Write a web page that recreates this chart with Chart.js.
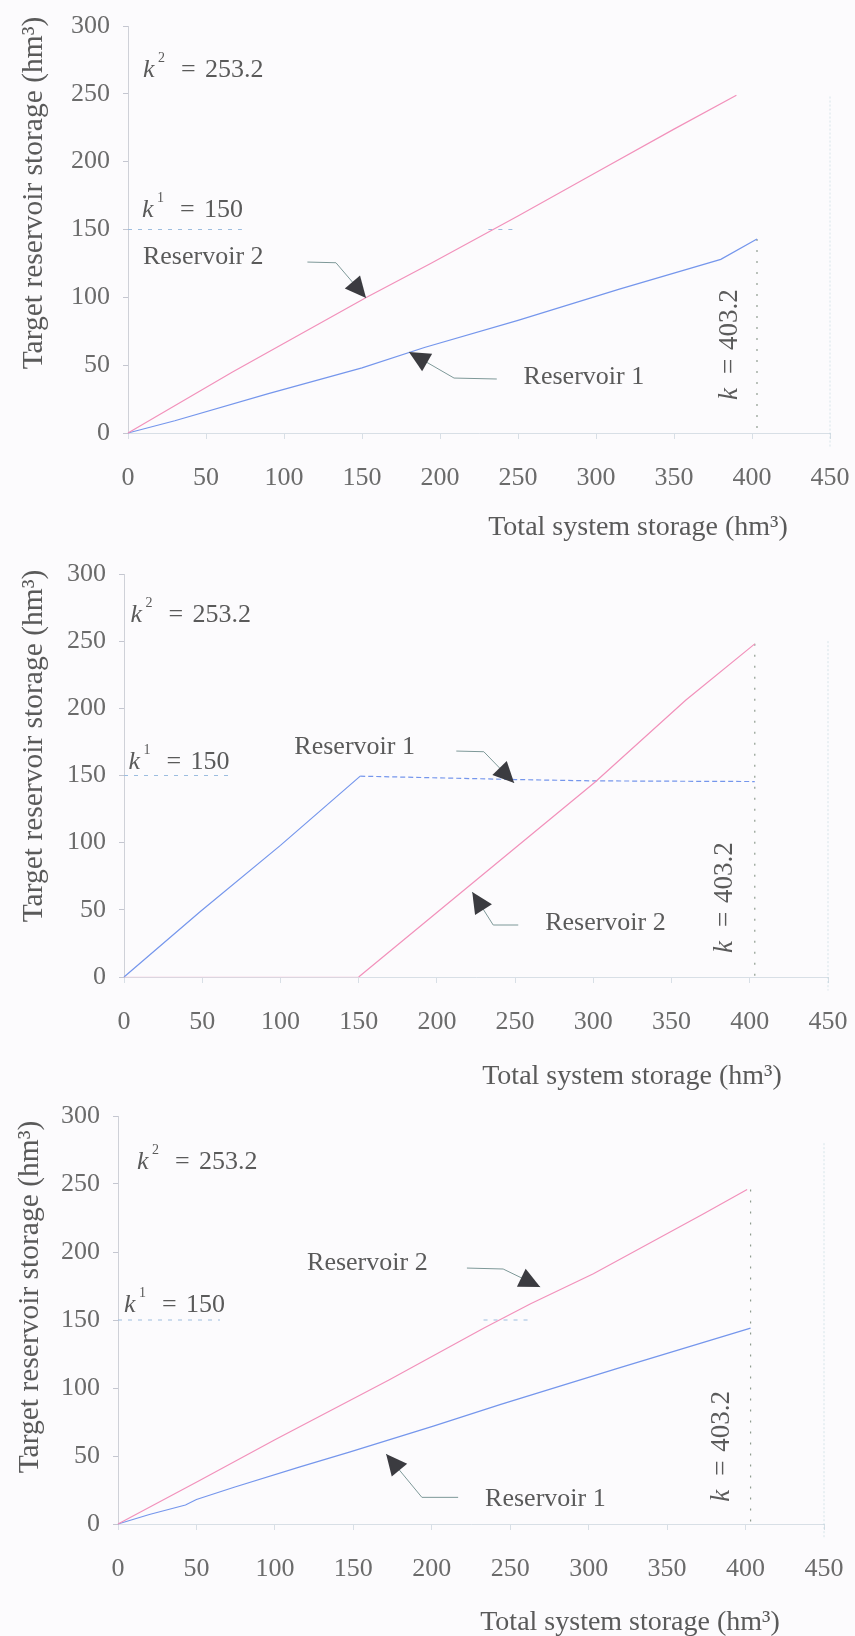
<!DOCTYPE html>
<html>
<head>
<meta charset="utf-8">
<script src="https://cdn.jsdelivr.net/npm/chart.js@4.4.0/dist/chart.umd.min.js"></script>
<style>
  html, body { margin: 0; padding: 0; background: #fcfbfd; }
  #wrap { position: relative; width: 855px; height: 1636px; overflow: hidden; }
  canvas { position: absolute; left: 0; }
</style>
</head>
<body>
<div id="wrap">
  <canvas id="c1" width="855" height="545" style="top:0px"></canvas>
  <canvas id="c2" width="855" height="545" style="top:545px"></canvas>
  <canvas id="c3" width="855" height="546" style="top:1090px"></canvas>
</div>
<script>
// ---- Target storage of each reservoir vs. total system storage (hm³) ----
const xTicks = [0, 50, 100, 150, 200, 250, 300, 350, 400, 450];
const yTicks = [0, 50, 100, 150, 200, 250, 300];

// Reservoir capacities and total system capacity
const capacity1 = 150;
const capacity2 = 253.2;
const totalCapacity = 403.2;

// Rule A (space-rule style sharing)
const totalR1_a = [0, 30, 90, 150, 190, 250, 315, 380, 403.2];
const res1_a    = [0, 9, 29, 48, 63, 83, 106, 128, 143];
const totalR2_a = [0, 67, 153, 194, 250, 300, 350, 390];
const res2_a    = [0, 45, 100, 125, 160, 192, 224, 249];

// Rule B (fill reservoir 1 first)
const totalR1_b = [0, 49, 100, 151, 250, 300, 403.2];
const res1_b    = [0, 49, 98, 149.5, 147, 146, 145.5];
const totalR2_b = [0, 150, 200, 250, 301, 359, 403.2];
const res2_b    = [0, 0, 48, 96, 145, 206, 248];

// Rule C (optimised)
const totalR1_c = [0, 20, 43, 50, 74, 116, 148, 201, 244, 320, 403.2];
const res1_c    = [0, 7, 14, 18, 27, 42, 53, 72, 88, 115, 144];
const totalR2_c = [0, 52, 100, 173, 233, 263, 303, 373, 401];
const res2_c    = [0, 32, 62, 106, 144, 162, 184, 228, 246];

// Extent of the dashed capacity-1 markers (total storage ranges)
const k1Marks_a = [[0, 73], [231, 247]];
const k1Marks_b = [[0, 67]];
const k1Marks_c = [[0, 65], [233, 263]];

// ---- styling ----
const SERIF = '"Liberation Serif", "Times New Roman", serif';
const COL_R1 = '#7596ec';
const COL_R2 = '#f291bb';
const TEXT = '#5a5a5a';

const toPts = (xs, ys) => xs.map((v, i) => ({ x: v, y: ys[i] }));

function drawArrow(ctx, pts) {
  ctx.save();
  ctx.strokeStyle = '#7d9898';
  ctx.lineWidth = 1;
  ctx.beginPath();
  ctx.moveTo(pts[0][0], pts[0][1]);
  for (let i = 1; i < pts.length; i++) ctx.lineTo(pts[i][0], pts[i][1]);
  ctx.stroke();
  const [ax, ay] = pts[pts.length - 2];
  const [tx, ty] = pts[pts.length - 1];
  const ang = Math.atan2(ty - ay, tx - ax);
  const L = 21, W = 10;
  ctx.fillStyle = '#3b3b40';
  ctx.beginPath();
  ctx.moveTo(tx, ty);
  ctx.lineTo(tx - L * Math.cos(ang) + W * Math.sin(ang), ty - L * Math.sin(ang) - W * Math.cos(ang));
  ctx.lineTo(tx - L * Math.cos(ang) - W * Math.sin(ang), ty - L * Math.sin(ang) + W * Math.cos(ang));
  ctx.closePath();
  ctx.fill();
  ctx.restore();
}

function drawKLabel(ctx, x, y, sup, value) {
  ctx.save();
  ctx.fillStyle = TEXT;
  ctx.textBaseline = 'middle';
  ctx.textAlign = 'left';
  ctx.font = 'italic 26px ' + SERIF;
  ctx.fillText('k', x, y);
  ctx.font = '14px ' + SERIF;
  ctx.fillText(sup, x + 15, y - 12);
  ctx.font = '26px ' + SERIF;
  ctx.fillText('=', x + 38, y);
  ctx.fillText(value, x + 62, y);
  ctx.restore();
}

function makeOverlay(box, notes) {
  return {
    id: 'overlay',
    afterDatasetsDraw(chart) {
      const { ctx, scales: { x, y } } = chart;
      const P = (a) => [x.getPixelForValue(a[0]), y.getPixelForValue(a[1])];
      ctx.save();
      // series labels
      ctx.fillStyle = TEXT;
      ctx.font = '26px ' + SERIF;
      ctx.textBaseline = 'middle';
      ctx.textAlign = 'left';
      notes.labels.forEach(l => {
        const [px, py] = P(l.at);
        ctx.fillText(l.text, px, py);
      });
      // leader arrows
      notes.arrows.forEach(a => drawArrow(ctx, a.map(P)));
      // capacity annotations
      const [k2x, k2y] = P(notes.k2At);
      drawKLabel(ctx, k2x, k2y, '2', '253.2');
      const [k1x, k1y] = P(notes.k1At);
      drawKLabel(ctx, k1x, k1y, '1', '150');
      // total capacity label, rotated
      const [kx, ky] = P(notes.kAt);
      ctx.translate(kx, ky);
      ctx.rotate(-Math.PI / 2);
      ctx.textBaseline = 'middle';
      ctx.fillStyle = TEXT;
      ctx.font = 'italic 27px ' + SERIF;
      ctx.fillText('k', 0, 0);
      ctx.font = '27px ' + SERIF;
      ctx.fillText('=', 26, 0);
      ctx.fillText('403.2', 50, 0);
      ctx.restore();

      // axis titles
      ctx.save();
      ctx.fillStyle = TEXT;
      ctx.textAlign = 'center';
      ctx.textBaseline = 'middle';
      ctx.font = '28px ' + SERIF;
      ctx.fillText('Total system storage (hm\u00B3)', box.xTitleX, box.xTitleY);
      ctx.translate(box.yTitleX, box.yTitleY);
      ctx.rotate(-Math.PI / 2);
      ctx.font = '29.5px ' + SERIF;
      ctx.fillText('Target reservoir storage (hm\u00B3)', 0, 0);
      ctx.restore();
    }
  };
}

function makePanel(box, s, notes) {
  const H = box.height;
  const datasets = [
    {
      data: toPts(s.t2, s.r2), borderColor: COL_R2, borderWidth: 1.2,
      segment: {
        borderColor: c => (c.p0.parsed.y === 0 && c.p1.parsed.y === 0) ? 'rgba(242,145,187,0.25)' : undefined
      }
    },
    {
      data: toPts(s.t1, s.r1), borderColor: COL_R1, borderWidth: 1.2,
      segment: {
        borderDash: c => (s.flatFrom !== undefined && c.p0.parsed.x >= s.flatFrom) ? [5, 3] : undefined
      }
    },
    // total capacity line
    {
      data: [{ x: totalCapacity, y: s.kTop }, { x: totalCapacity, y: 0 }],
      borderColor: '#8f9c90', borderWidth: 1.2, borderDash: [2, 9]
    },
    // right frame line
    {
      data: [{ x: 450, y: s.frameTop }, { x: 450, y: -10 }],
      borderColor: 'rgba(170,200,210,0.45)', borderWidth: 1, borderDash: [2, 2]
    }
  ];
  s.k1Marks.forEach(m => datasets.push({
    data: [{ x: m[0], y: capacity1 }, { x: m[1], y: capacity1 }],
    borderColor: '#9cbde0', borderWidth: 1.2, borderDash: [4, 6]
  }));

  new Chart(document.getElementById(box.id), {
    type: 'line',
    data: { datasets },
    options: {
      responsive: false,
      animation: false,
      devicePixelRatio: 1,
      layout: { padding: { top: box.plotTop, right: 855 - box.right, left: 0, bottom: 0 } },
      plugins: { legend: { display: false }, tooltip: { enabled: false } },
      elements: { point: { radius: 0 }, line: { tension: 0 } },
      clip: false,
      scales: {
        x: {
          type: 'linear', min: 0, max: 450,
          afterBuildTicks: sc => { sc.ticks = xTicks.map(v => ({ value: v })); },
          afterFit: sc => { sc.height = H - box.plotBottom; sc.paddingLeft = 0; sc.paddingRight = 0; },
          grid: { drawOnChartArea: false, drawTicks: true, tickLength: 6, color: 'rgba(185,200,212,0.55)' },
          border: { color: 'rgba(185,200,212,0.55)', width: 1 },
          ticks: { padding: 24, maxRotation: 0, autoSkip: false, color: '#6b6b6b',
                   font: { family: SERIF, size: 26 } }
        },
        y: {
          type: 'linear', min: 0, max: 300,
          afterBuildTicks: sc => { sc.ticks = yTicks.map(v => ({ value: v })); },
          afterFit: sc => { sc.width = box.left; sc.paddingTop = 0; sc.paddingBottom = 0; },
          grid: { drawOnChartArea: false, drawTicks: true, tickLength: 5, color: '#c4c6d0' },
          border: { color: '#cfd1d8', width: 1 },
          ticks: { padding: 13, color: '#6b6b6b', font: { family: SERIF, size: 26 } }
        }
      }
    },
    plugins: [makeOverlay(box, notes)]
  });
}

// ---- panel A ----
makePanel(
  { id: 'c1', height: 545, left: 128, right: 830, plotTop: 26, plotBottom: 433,
    xTitleX: 638, xTitleY: 528, yTitleX: 34, yTitleY: 193 },
  { t1: totalR1_a, r1: res1_a, t2: totalR2_a, r2: res2_a,
    kTop: res1_a[res1_a.length - 1], frameTop: 248, k1Marks: k1Marks_a },
  {
    labels: [{ text: 'Reservoir 2', at: [9.6, 129.7] }, { text: 'Reservoir 1', at: [253.6, 41.3] }],
    arrows: [
      [[115, 126], [133.3, 125.5], [152.6, 99.5]],
      [[236.4, 39.8], [209, 40.5], [180.1, 59.7]]
    ],
    k2At: [9.6, 267.6], k1At: [9, 164.4], kAt: [385.9, 24.3]
  }
);

// ---- panel B ----
makePanel(
  { id: 'c2', height: 545, left: 124, right: 828, plotTop: 29, plotBottom: 432,
    xTitleX: 632, xTitleY: 532, yTitleX: 34, yTitleY: 201 },
  { t1: totalR1_b, r1: res1_b, t2: totalR2_b, r2: res2_b, flatFrom: 151,
    kTop: res2_b[res2_b.length - 1], frameTop: 250, k1Marks: k1Marks_b },
  {
    labels: [{ text: 'Reservoir 1', at: [108.9, 171.2] }, { text: 'Reservoir 2', at: [269.2, 40.2] }],
    arrows: [
      [[212.4, 168.2], [230, 167.7], [249.4, 144.4]],
      [[252, 38.7], [236, 38.7], [222.6, 63.3]]
    ],
    k2At: [4.2, 269.5], k1At: [2.9, 160], kAt: [384.2, 17.9]
  }
);

// ---- panel C ----
makePanel(
  { id: 'c3', height: 546, left: 118, right: 824, plotTop: 26, plotBottom: 434,
    xTitleX: 630, xTitleY: 533, yTitleX: 30, yTitleY: 207 },
  { t1: totalR1_c, r1: res1_c, t2: totalR2_c, r2: res2_c,
    kTop: res2_c[res2_c.length - 1], frameTop: 280, k1Marks: k1Marks_c },
  {
    labels: [{ text: 'Reservoir 2', at: [120.5, 191.9] }, { text: 'Reservoir 1', at: [234, 18.4] }],
    arrows: [
      [[222.4, 188.2], [245.5, 187.5], [269.1, 174.3]],
      [[216.8, 19.6], [193.7, 19.6], [170.9, 51.5]]
    ],
    k2At: [12.1, 266.2], k1At: [3.8, 161], kAt: [385.2, 16.4]
  }
);
</script>
</body>
</html>
